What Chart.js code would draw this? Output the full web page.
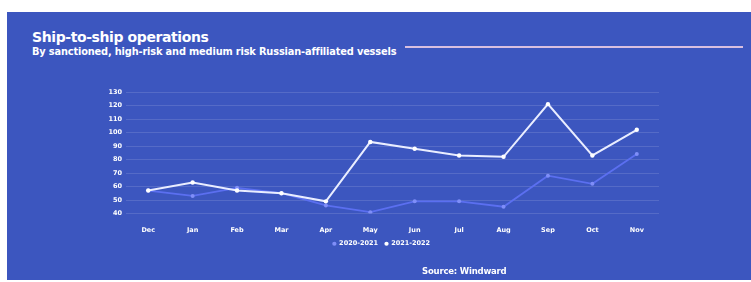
<!DOCTYPE html>
<html>
<head>
<meta charset="utf-8">
<script src="https://cdn.jsdelivr.net/npm/chart.js@4"></script>
<style>
  html, body { margin: 0; padding: 0; background: #fff; }
  body { width: 751px; height: 282px; position: relative; overflow: hidden; font-family: "DejaVu Sans", Roboto, sans-serif; }
  #panel { position: absolute; left: 7px; top: 12px; width: 744px; height: 268px; background: #3c56bf; }
  #chartWrap { position: absolute; left: 0; top: 0; width: 751px; height: 282px; }
  .title { position: absolute; left: 32px; top: 29px; color: #fff; font-size: 14px; font-weight: 700; letter-spacing: -0.4px; }
  .subtitle { position: absolute; left: 32px; top: 46px; color: #fff; font-size: 9.8px; font-weight: 700; letter-spacing: -0.15px; }
  .rule { position: absolute; left: 405px; top: 46px; width: 338px; height: 2px; background: #d8bfe0; }
  .source { position: absolute; left: 422px; top: 266px; color: #fff; font-size: 8.5px; font-weight: 700; letter-spacing: -0.2px; }
</style>
</head>
<body>
<div id="panel"></div>
<div class="title">Ship-to-ship operations</div>
<div class="subtitle">By sanctioned, high-risk and medium risk Russian-affiliated vessels</div>
<div class="rule"></div>
<div id="chartWrap"><canvas id="stsChart" width="751" height="282"></canvas></div>
<div class="source">Source: Windward</div>
<script>
const months = ["Dec", "Jan", "Feb", "Mar", "Apr", "May", "Jun", "Jul", "Aug", "Sep", "Oct", "Nov"];
const ops2020_2021 = [57, 53, 59, 55, 46, 41, 49, 49, 45, 68, 62, 84];
const ops2021_2022 = [57, 63, 57, 55, 49, 93, 88, 83, 82, 121, 83, 102];
const yTicks = [40, 50, 60, 70, 80, 90, 100, 110, 120, 130];

const tickFont = { family: "'DejaVu Sans', Roboto, sans-serif", size: 6.5, weight: "bold" };

const ctx = document.getElementById("stsChart").getContext("2d");
new Chart(ctx, {
  type: "line",
  data: {
    labels: months,
    datasets: [
      {
        label: "2020-2021",
        data: ops2020_2021,
        borderColor: "#5b6ff0",
        backgroundColor: "#8f9cff",
        pointBackgroundColor: "#7f8ef8",
        pointBorderWidth: 0,
        borderWidth: 1.8,
        pointRadius: 2,
        tension: 0,
        order: 2
      },
      {
        label: "2021-2022",
        data: ops2021_2022,
        borderColor: "#e9edff",
        backgroundColor: "#ffffff",
        pointBackgroundColor: "#ffffff",
        pointBorderWidth: 0,
        borderWidth: 2,
        pointRadius: 2.2,
        tension: 0,
        order: 1
      }
    ]
  },
  options: {
    responsive: false,
    animation: false,
    layout: { padding: { left: 104, right: 92, top: 92, bottom: 25 } },
    plugins: {
      title: { display: false },
      tooltip: { enabled: false },
      legend: {
        display: true,
        position: "bottom",
        labels: {
          color: "#ffffff",
          font: tickFont,
          usePointStyle: true,
          pointStyle: "circle",
          boxWidth: 3,
          boxHeight: 3,
          padding: 7,
          sort: (a, b) => a.datasetIndex - b.datasetIndex
        }
      }
    },
    scales: {
      x: {
        offset: true,
        grid: { display: false },
        border: { display: false },
        ticks: { color: "#ffffff", font: tickFont, padding: 5, maxRotation: 0 },
        afterFit: (scale) => { scale.height = 20; }
      },
      y: {
        min: 40,
        max: 130,
        grid: { color: "rgba(255,255,255,0.13)", lineWidth: 1, drawTicks: false },
        border: { display: false },
        afterBuildTicks: (scale) => { scale.ticks = yTicks.map(v => ({ value: v })); },
        ticks: { color: "#ffffff", font: tickFont, padding: 4 },
        afterFit: (scale) => { scale.width = 22; }
      }
    }
  }
});
</script>
</body>
</html>
